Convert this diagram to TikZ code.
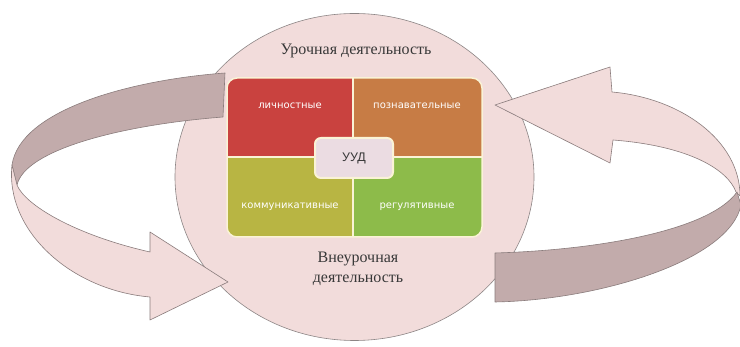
\documentclass[tikz,border=0pt]{standalone}
\usepackage{fontspec}
\setmainfont{Liberation Serif}
\newfontfamily\labfont{DejaVu Sans}
\newfontfamily\udfont{Liberation Sans}
\definecolor{circfill}{HTML}{F2DCDB}
\definecolor{circline}{HTML}{8C8585}
\definecolor{lightband}{HTML}{F2DCDB}
\definecolor{darkband}{HTML}{C2ABAB}
\definecolor{bandline}{HTML}{8A7C7C}
\definecolor{qred}{HTML}{C9423F}
\definecolor{qorange}{HTML}{C77C45}
\definecolor{qolive}{HTML}{B8B543}
\definecolor{qgreen}{HTML}{8DBB4A}
\definecolor{cream}{HTML}{FAF3D6}
\definecolor{udfill}{HTML}{EBDCE2}
\definecolor{txtgrey}{HTML}{383838}
\tikzset{
  band/.style={draw=bandline, line width=0.6pt, line join=round},
  heading/.style={text=txtgrey, font=\fontsize{16}{19.5}\selectfont, align=center},
  qlabel/.style={text=white, font=\labfont\fontsize{10}{12}\selectfont},
}
\begin{document}
\begin{tikzpicture}[x=1pt,y=-1pt]
\fill[white] (0,0) rectangle (740,347);
\useasboundingbox (0,0) rectangle (740,347);
% circle
\fill[circfill] (354.5,177) ellipse [x radius=179.5, y radius=163.5];
\draw[circline, line width=0.6pt] (354.5,177) ellipse [x radius=179.5, y radius=163.5];
% left arrow: dark back band
\path[band, fill=darkband] (225,73) .. controls (130,80) and (20,110) .. (12,165)
  -- (17,185) .. controls (25,150) and (120,125) .. (223,117) -- cycle;
% left arrow: light front band with head
\path[band, fill=lightband] (12,165) .. controls (5,230) and (70,290) .. (150,297)
  -- (150,320) -- (228,282) -- (150,232) -- (150,252)
  .. controls (75,235) and (25,205) .. (17,185) -- cycle;
% right arrow: light band with head
\path[band, fill=lightband] (495,105) -- (610,67) -- (612,92)
  .. controls (680,98) and (740,140) .. (740,196)
  -- (736,192) .. controls (728,170) and (690,146) .. (613,140)
  -- (610,163) -- cycle;
% right arrow: dark band
\path[band, fill=darkband] (737,192) .. controls (710,230) and (600,250) .. (495,253)
  -- (495,302) .. controls (600,300) and (730,260) .. (741,205) -- cycle;
% matrix
\begin{scope}
\clip[rounded corners=10pt] (227,78) rectangle (482,237);
\fill[qred] (227,78) rectangle (353,157);
\fill[qorange] (353,78) rectangle (482,157);
\fill[qolive] (227,157) rectangle (353,237);
\fill[qgreen] (353,157) rectangle (482,237);
\end{scope}
\draw[cream, line width=1.5pt, rounded corners=10pt] (227,78) rectangle (482,237);
\draw[cream, line width=2pt] (353,78) -- (353,237);
\draw[cream, line width=2pt] (227,157) -- (482,157);
\node[draw=cream, line width=2pt, fill=udfill, rounded corners=6pt,
  minimum width=78pt, minimum height=40pt, text=txtgrey,
  font=\udfont\fontsize{12.5}{14}\selectfont] (uud) at (354,158) {УУД};
\node[qlabel] (lich) at (290,106) {личностные};
\node[qlabel] (pozn) at (417,106) {познавательные};
\node[qlabel] (komm) at (290,207) {коммуникативные};
\node[qlabel] (reg) at (417,207) {регулятивные};
% headings
\node[heading] (uroch) at (356,51) {Урочная деятельность};
\node[heading] (vneur) at (358,269) {Внеурочная\\деятельность};
\end{tikzpicture}
\end{document}
